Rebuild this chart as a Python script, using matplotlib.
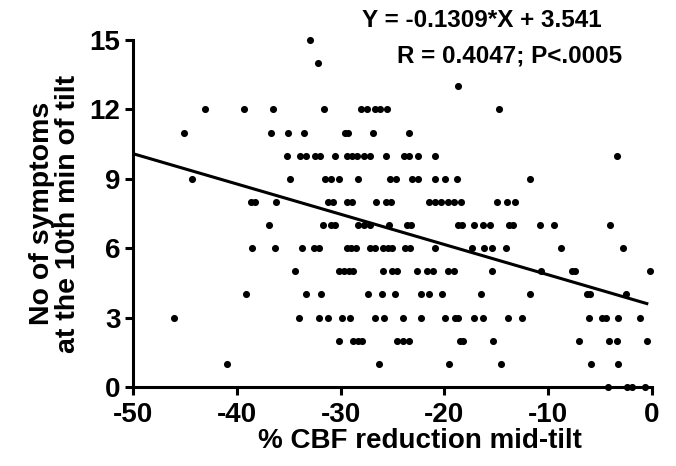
import numpy as np
import matplotlib.pyplot as plt

plt.rcParams['font.family'] = ['Liberation Sans', 'DejaVu Sans']
plt.rcParams['font.weight'] = 'bold'
plt.rcParams['axes.unicode_minus'] = False

# x values (% CBF reduction) grouped by number of symptoms
rows = {
    15: [-32.9],
    14: [-32.2],
    13: [-18.7],
    12: [-43.1, -39.3, -36.5, -31.6, -28.0, -27.5, -26.7, -26.2, -25.5, -14.7],
    11: [-45.1, -36.7, -35.1, -33.5, -29.6, -29.3, -26.9, -23.4],
    10: [-35.2, -33.9, -33.3, -32.5, -32.0, -30.5, -29.4, -28.9, -28.4, -27.7,
         -27.2, -25.6, -23.9, -23.4, -22.5, -20.9, -3.4],
    9: [-44.3, -34.9, -31.5, -30.9, -30.2, -28.3, -25.2, -24.7, -23.1, -22.5,
        -20.9, -19.9, -18.8, -11.8],
    8: [-38.6, -38.2, -36.2, -31.2, -30.7, -29.4, -28.9, -26.6, -25.6, -25.1,
        -21.5, -20.9, -20.3, -19.7, -19.1, -18.4, -14.9, -14.0, -13.2],
    7: [-36.9, -31.7, -30.9, -30.5, -28.3, -27.7, -27.2, -25.3, -23.6, -23.2,
        -18.7, -18.3, -17.1, -16.3, -15.6, -13.8, -13.4, -10.8, -9.4, -4.0],
    6: [-38.5, -36.3, -33.7, -32.6, -32.1, -29.4, -29.0, -28.5, -27.2, -26.7,
        -25.9, -25.4, -25.0, -23.8, -23.3, -20.9, -17.3, -16.2, -15.4, -14.1,
        -8.8, -2.8],
    5: [-34.4, -30.2, -29.7, -29.2, -28.8, -25.9, -25.0, -24.6, -22.6, -21.7,
        -21.1, -19.7, -19.1, -15.4, -10.7, -7.7, -7.4, -0.2],
    4: [-39.1, -33.3, -31.9, -27.4, -26.0, -24.8, -22.3, -21.5, -20.2, -16.5,
        -11.8, -6.3, -6.0, -2.5],
    3: [-46.0, -34.0, -32.1, -31.2, -29.9, -29.1, -26.7, -25.8, -24.0, -22.3,
        -19.9, -19.0, -18.7, -17.1, -16.3, -13.9, -12.5, -6.1, -4.8, -4.4,
        -3.3, -1.2],
    2: [-30.2, -28.8, -28.3, -27.9, -24.6, -24.0, -23.4, -18.5, -18.2, -15.3,
        -7.0, -4.1, -3.4, -0.5],
    1: [-40.9, -26.3, -19.6, -14.5, -5.9, -3.3],
    0: [-4.2, -2.4, -1.9, -0.7],
}

slope = -0.1309
intercept = 3.541
line_x = [-50, -0.5]

x = []
y = []
for k, vals in rows.items():
    x += vals
    y += [k] * len(vals)
x = np.array(x)
y = np.array(y)

fig = plt.figure(figsize=(6.76, 4.66), dpi=100)
ax = fig.add_axes([0.1967, 0.1695, 0.7678, 0.7447])

ax.scatter(x, y, s=26, color='black', clip_on=False, zorder=5, linewidths=0)
lx = np.array(line_x)
ax.plot(lx, slope * lx + intercept, color='black', lw=2.2, zorder=4)

ax.set_xlim(-50, 0)
ax.set_ylim(0, 15)
ax.set_xticks([-50, -40, -30, -20, -10, 0])
ax.set_yticks([0, 3, 6, 9, 12, 15])
for s in ['top', 'right']:
    ax.spines[s].set_visible(False)
for s in ['left', 'bottom']:
    ax.spines[s].set_linewidth(2.2)
ax.tick_params(width=2.2, length=6, labelsize=20)
ax.tick_params(axis='x', pad=5)
ax.tick_params(axis='y', pad=3)
for lab in ax.get_xticklabels() + ax.get_yticklabels():
    lab.set_fontweight('bold')

ax.set_xlabel('% CBF reduction mid-tilt', fontsize=20, fontweight='bold')
ax.xaxis.set_label_coords(0.553, -0.118)
ax.set_ylabel('No of symptoms\nat the 10th min of tilt', fontsize=20.5,
              fontweight='bold', labelpad=6, linespacing=1.0)

fig.text(0.713, 0.955, 'Y = -0.1309*X + 3.541', fontsize=17.5, fontweight='bold',
         ha='center', va='center')
fig.text(0.92, 0.88, 'R = 0.4047; P<.0005', fontsize=17.5, fontweight='bold',
         ha='right', va='center')

fig.savefig('out.png', dpi=100)
